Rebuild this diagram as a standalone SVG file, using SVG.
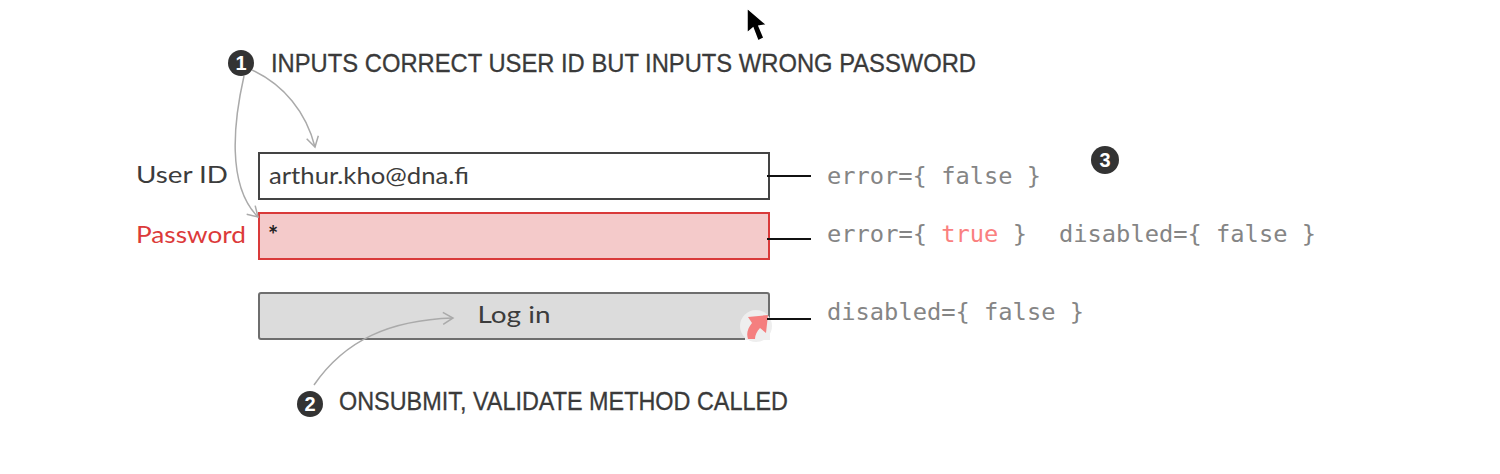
<svg xmlns="http://www.w3.org/2000/svg" width="1500" height="474" viewBox="0 0 1500 474">
<defs>
<style>
.ui{font-family:"Lato","Open Sans","Liberation Sans",sans-serif;font-size:24px;fill:#3c3c3c}
.note{font-family:"Liberation Sans","DejaVu Sans",sans-serif;font-size:25px;fill:#3a3a3a;stroke:#3a3a3a;stroke-width:.3}
.code{font-family:"DejaVu Sans Mono","Liberation Mono",monospace;font-size:23px;fill:#858585}
.num{font-family:"Liberation Sans",sans-serif;font-size:20px;font-weight:700;fill:#fff;text-anchor:middle}
.badge{fill:#333}
.curve{fill:none;stroke:#aaa;stroke-width:1.5}
.tick{fill:none;stroke:#111;stroke-width:2}
</style>
<marker id="open" viewBox="0 0 14 14" refX="12" refY="7" markerWidth="14" markerHeight="14" markerUnits="userSpaceOnUse" orient="auto"><path d="M2 1L12 7L2 13" fill="none" stroke="#aaa" stroke-width="1.5"/></marker>
</defs>
<g id="cursor"><path d="M747 8L747 33L753 28L758 41L764 38L759 26L767 25Z" fill="#000" stroke="#fff" stroke-width="1.5"/></g>
<g id="note1"><circle class="badge" cx="241" cy="63" r="13"/><text class="num" x="241" y="70">1</text>
<text class="note" x="271" y="72" textLength="705" lengthAdjust="spacingAndGlyphs">INPUTS CORRECT USER ID BUT INPUTS WRONG PASSWORD</text></g>
<g id="userid"><text class="ui" x="136" y="183" textLength="92" lengthAdjust="spacingAndGlyphs">User ID</text>
<rect x="259" y="153" width="510" height="46" fill="#fff" stroke="#444" stroke-width="2"/>
<text class="ui" x="269" y="184" textLength="200" lengthAdjust="spacingAndGlyphs">arthur.kho@dna.fi</text>
<text class="code" x="827" y="184" textLength="214" lengthAdjust="spacingAndGlyphs">error={ false }</text></g>
<g id="password"><text class="ui" x="136" y="243" textLength="110" lengthAdjust="spacingAndGlyphs" style="fill:#dc3a3a">Password</text>
<rect x="259" y="213" width="510" height="46" fill="#f4caca" stroke="#d93a3a" stroke-width="2"/>
<text class="ui" x="268" y="244" style="fill:#222;font-weight:700">*</text>
<text class="code" x="827" y="242" textLength="200" lengthAdjust="spacingAndGlyphs">error={ <tspan fill="#fa8080">true</tspan> }</text>
<text class="code" x="1059" y="242" textLength="257" lengthAdjust="spacingAndGlyphs">disabled={ false }</text></g>
<g id="login"><rect x="259" y="293" width="510" height="46" rx="2" fill="#dcdcdc" stroke="#6e6e6e" stroke-width="2"/>
<text class="ui" x="514" y="323" text-anchor="middle" textLength="73" lengthAdjust="spacingAndGlyphs">Log in</text>
<circle cx="756" cy="326" r="16" fill="#eeeeee"/><path d="M770 340H745V325L770 325Z" fill="#eeeeee"/>
<path d="M768 315L748 317L752 323C748 328 746 333 748 339L755 339C755 335 757 331 760 328L766 333Z" fill="#f57f7f"/>
<text class="code" x="827" y="320" textLength="257" lengthAdjust="spacingAndGlyphs">disabled={ false }</text></g>
<g id="note2"><circle class="badge" cx="310" cy="404" r="13"/><text class="num" x="310" y="411">2</text>
<text class="note" x="339" y="410" textLength="449" lengthAdjust="spacingAndGlyphs">ONSUBMIT, VALIDATE METHOD CALLED</text></g>
<g id="note3"><circle class="badge" cx="1105" cy="160" r="14"/><text class="num" x="1105" y="167">3</text></g>
<g id="connectors">
<path class="curve" marker-end="url(#open)" d="M252 70C284 85 306 112 315 147"/>
<path class="curve" marker-end="url(#open)" d="M244 76C234 120 226 185 258 217"/>
<path class="curve" marker-end="url(#open)" d="M314 385C345 340 390 320 453 318"/>
<path class="tick" d="M767 176H811"/>
<path class="tick" d="M767 239H811"/>
<path class="tick" d="M767 319H811"/>
</g>
</svg>
